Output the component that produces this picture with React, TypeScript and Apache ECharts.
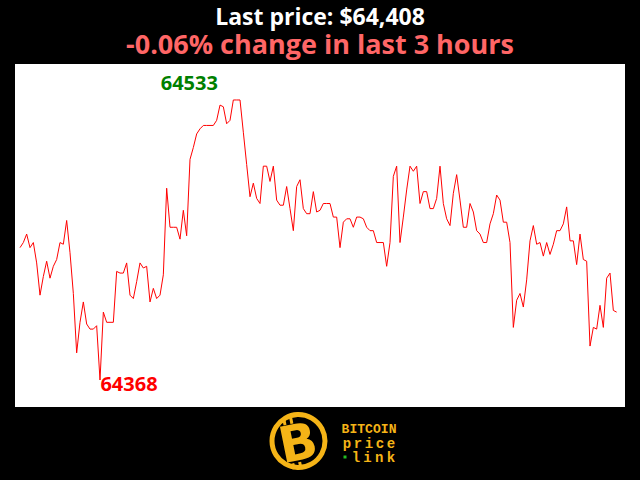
import React, { useEffect, useRef } from "react";
import * as echarts from "echarts";

const titleText = "Last price: $64,408";
const subtitleText = "-0.06% change in last 3 hours";

// one value per minute over the last 3 hours
const prices = [
  64446, 64449, 64454, 64446, 64449, 64437, 64418, 64429, 64438, 64428,
  64435, 64439, 64449, 64448, 64462, 64443, 64419, 64384, 64402, 64414,
  64401, 64398, 64398, 64400, 64368, 64408, 64402, 64402, 64402, 64432,
  64431, 64431, 64437, 64418, 64416, 64426, 64437, 64434, 64435, 64414,
  64422, 64416, 64418, 64430, 64481, 64458, 64458, 64458, 64451, 64468,
  64453, 64498, 64505, 64513, 64516, 64518, 64518, 64518, 64518, 64521,
  64530, 64529, 64519, 64521, 64533, 64533, 64533, 64514, 64495, 64476,
  64484, 64475, 64472, 64494, 64494, 64485, 64494, 64474, 64471, 64471,
  64482, 64469, 64456, 64482, 64486, 64469, 64466, 64466, 64479, 64467,
  64468, 64472, 64472, 64472, 64464, 64464, 64446, 64461, 64463, 64463,
  64458, 64464, 64464, 64463, 64458, 64456, 64456, 64449, 64449, 64449,
  64435, 64449, 64488, 64494, 64449, 64464, 64480, 64494, 64491, 64494,
  64472, 64479, 64479, 64469, 64469, 64475, 64494, 64472, 64463, 64459,
  64478, 64489, 64474, 64458, 64458, 64472, 64467, 64456, 64454, 64449,
  64449, 64460, 64466, 64477, 64474, 64461, 64461, 64449, 64399, 64415,
  64419, 64411, 64427, 64450, 64459, 64448, 64449, 64441, 64449, 64442,
  64448, 64456, 64456, 64460, 64470, 64450, 64450, 64436, 64454, 64439,
  64438, 64388, 64399, 64398, 64412, 64399, 64428, 64431, 64409, 64408,
];

const logoLines = ["BITCOIN", "price", "link"];

const GOLD = "#f5b417";

function spacedChars(text: string, x0: number, y: number, pitch: number, size: number) {
  return text.split("").map((ch, i) => ({
    type: "text",
    x: x0 + pitch * (i + 0.5),
    y,
    style: {
      text: ch,
      fill: GOLD,
      font: `bold ${size}px 'Liberation Mono'`,
      align: "center",
      verticalAlign: "middle",
      lineHeight: size - 2,
    },
  }));
}

export default function App() {
  const ref = useRef<HTMLDivElement>(null);

  useEffect(() => {
    if (!ref.current) return;
    const chart = echarts.init(ref.current, undefined, { renderer: "svg" });

    const maxV = Math.max(...prices);
    const minV = Math.min(...prices);
    const maxI = prices.indexOf(maxV);
    const minI = prices.indexOf(minV);

    const rot = 0.2;
    const bars = [
      [287, 417],
      [294, 417],
      [287, 462],
      [294, 462],
    ].map(([bx, by]) => ({
      type: "rect",
      shape: { x: bx, y: by, width: 3, height: 6 },
      rotation: rot,
      originX: 298,
      originY: 442,
      style: { fill: GOLD },
    }));

    const option = {
      animation: false,
      backgroundColor: "#000",
      grid: {
        left: 15,
        right: 15,
        top: 64,
        bottom: 73,
        show: true,
        backgroundColor: "#ffffff",
        borderWidth: 0,
      },
      xAxis: {
        type: "value",
        min: -1.5,
        max: prices.length + 1.5,
        show: false,
        splitLine: { show: false },
      },
      yAxis: {
        type: "value",
        min: 64352.1,
        max: 64554.2,
        show: false,
        splitLine: { show: false },
      },
      series: [
        {
          type: "line",
          data: prices.map((v, i) => [i, v]),
          symbol: "none",
          smooth: false,
          lineStyle: { color: "#ff0000", width: 1 },
          markPoint: {
            symbol: "circle",
            symbolSize: 0,
            data: [
              {
                coord: [maxI, maxV],
                value: maxV,
                label: {
                  show: true,
                  formatter: String(maxV),
                  color: "#008000",
                  fontWeight: "bold",
                  fontSize: 20,
                  fontFamily: "Open Sans",
                  offset: [-44, -17],
                },
              },
              {
                coord: [minI, minV],
                value: minV,
                label: {
                  show: true,
                  formatter: String(minV),
                  color: "#ff0000",
                  fontWeight: "bold",
                  fontSize: 20,
                  fontFamily: "Open Sans",
                  offset: [29, 3],
                },
              },
            ],
          },
        },
      ],
      graphic: [
        {
          type: "text",
          x: 320,
          y: 15.5,
          style: {
            text: titleText,
            fill: "#ffffff",
            font: "bold 23px 'Open Sans'",
            align: "center",
            verticalAlign: "middle",
            lineHeight: 23,
          },
        },
        {
          type: "text",
          x: 320,
          y: 43,
          style: {
            text: subtitleText,
            fill: "#ff6666",
            font: "bold 27px 'Open Sans'",
            align: "center",
            verticalAlign: "middle",
            lineHeight: 26,
          },
        },
        {
          type: "circle",
          shape: { cx: 298.5, cy: 441, r: 26.5 },
          style: { fill: "none", stroke: GOLD, lineWidth: 5 },
        },
        {
          type: "text",
          x: 298,
          y: 443,
          rotation: rot,
          style: {
            text: "B",
            fill: GOLD,
            font: "bold 50px 'DejaVu Sans'",
            align: "center",
            verticalAlign: "middle",
            lineHeight: 40,
          },
        },
        ...bars,
        ...spacedChars(logoLines[0], 341.5, 429, 7.86, 13),
        ...spacedChars(logoLines[1], 341.5, 443.5, 11, 14),
        {
          type: "rect",
          shape: { x: 343.5, y: 455.5, width: 3, height: 3 },
          style: { fill: "#22bb22" },
        },
        ...spacedChars(logoLines[2], 350, 457.5, 11.7, 14),
      ],
    };

    chart.setOption(option as any);
    return () => chart.dispose();
  }, []);

  return (
    <div
      ref={ref}
      style={{
        position: "fixed",
        left: 0,
        top: 0,
        width: 640,
        height: 480,
        background: "#000",
      }}
    />
  );
}
